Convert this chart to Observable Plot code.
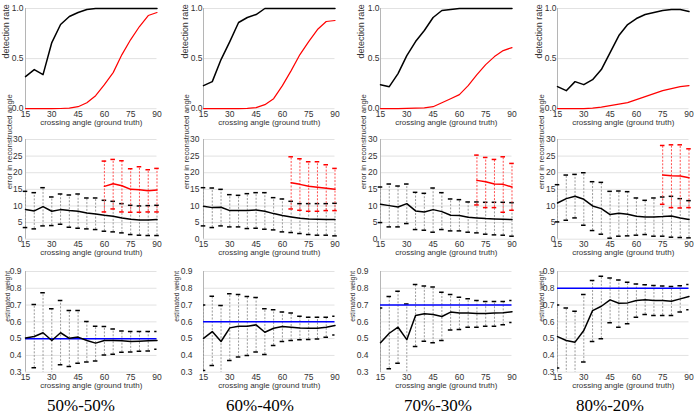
<!DOCTYPE html>
<html><head><meta charset="utf-8">
<script src="https://cdn.jsdelivr.net/npm/d3@7"></script>
<script src="https://cdn.jsdelivr.net/npm/@observablehq/plot@0.6"></script>
<style>
body{margin:0;background:#fff;}
#chart{position:relative;width:698px;height:418px;overflow:hidden;background:#fff;}
.cap{position:absolute;width:160px;text-align:center;font-family:"Liberation Serif","Times New Roman",serif;font-size:17px;line-height:17px;color:#000;white-space:nowrap;}
</style></head><body><div id="chart"></div>
<script>
// ---------- data ----------
const angles = [15,20,25,30,35,40,45,50,55,60,65,70,75,80,85,90];
const xTicks = [15,30,45,60,75,90];
const captions = ["50%-50%","60%-40%","70%-30%","80%-20%"];
const trueWeights = [0.5,0.6,0.7,0.8];
const yTicksDet = [0,0.5,1];
const yTicksErr = [0,5,10,15,20,25,30];
const yTicksW = [0.3,0.4,0.5,0.6,0.7,0.8,0.9];

// detection rate (black = detected, red = second)
const detB_50 = [0.32,0.39,0.34,0.66,0.84,0.92,0.96,0.99,1,1,1,1,1,1,1,1];
const detR_50 = [0,0,0,0,0.002,0.005,0.02,0.06,0.13,0.24,0.36,0.54,0.69,0.82,0.93,0.96];
const detB_60 = [0.23,0.27,0.49,0.67,0.86,0.91,0.94,1,1,1,1,1,1,1,1,1];
const detR_60 = [0,0,0,0,0,0.003,0.01,0.04,0.10,0.23,0.38,0.54,0.67,0.79,0.87,0.88];
const detB_70 = [0.24,0.22,0.35,0.53,0.67,0.78,0.91,0.98,0.99,1,1,1,1,1,1,1];
const detR_70 = [0,0,0,0.003,0.005,0.008,0.02,0.06,0.10,0.14,0.23,0.34,0.44,0.52,0.58,0.61];
const detB_80 = [0.22,0.18,0.27,0.24,0.29,0.39,0.56,0.73,0.84,0.90,0.94,0.96,0.98,0.99,0.99,0.97];
const detR_80 = [0,0,0,0,0.005,0.015,0.03,0.045,0.06,0.09,0.12,0.15,0.18,0.20,0.22,0.23];

// error in reconstructed angle
const errM_50  = [8.9,8.5,9.8,8.4,8.9,8.6,8.4,7.9,7.6,7.2,6.9,6.4,6.0,5.8,5.8,5.9];
const errHi_50 = [14.4,14.0,15.5,12.7,13.6,13.3,13.6,12.4,12.4,11.7,11.4,10.7,10.2,10.0,10.1,10.2];
const errLo_50 = [3.5,3.1,4.0,4.1,4.5,3.6,3.3,3.1,2.9,2.4,2.2,1.9,1.4,1.2,1.1,1.1];
const errRM_50  = [null,null,null,null,null,null,null,null,null,15.9,16.7,16.1,15.0,14.9,14.6,14.8];
const errRHi_50 = [null,null,null,null,null,null,null,null,null,23.5,24.0,23.6,21.2,21.8,20.9,21.3];
const errRLo_50 = [null,null,null,null,null,null,null,null,null,8.2,9.1,8.2,8.1,8.1,8.2,8.2];

const errM_60  = [9.9,9.5,9.6,8.6,8.6,8.6,8.8,8.4,7.7,7.1,6.7,6.3,6.1,6.0,5.9,5.9];
const errHi_60 = [15.5,15.4,15.0,13.4,13.2,13.7,14.0,14.0,12.5,12.1,11.4,10.7,10.7,10.7,10.7,10.8];
const errLo_60 = [4.0,3.5,4.0,3.7,3.7,3.2,3.3,3.0,2.8,2.2,2.0,1.7,1.4,1.2,1.2,1.0];
const errRM_60  = [null,null,null,null,null,null,null,null,null,null,17.0,16.5,15.9,15.6,15.3,15.0];
const errRHi_60 = [null,null,null,null,null,null,null,null,null,null,24.8,24.2,23.3,23.3,22.4,21.3];
const errRLo_60 = [null,null,null,null,null,null,null,null,null,null,9.1,8.7,8.4,8.4,8.6,8.6];

const errM_70  = [10.5,10.1,9.7,10.7,8.5,8.2,8.9,8.3,7.2,7.1,6.6,6.4,6.2,6.1,6.0,5.9];
const errHi_70 = [15.7,16.6,16.0,16.6,14.1,13.8,15.4,14.0,12.1,11.9,11.2,11.2,11.1,11.1,11.1,11.0];
const errLo_70 = [5.0,3.7,3.7,4.7,2.9,2.7,2.1,2.9,2.5,2.5,2.1,1.9,1.5,1.3,1.2,0.9];
const errRM_70  = [null,null,null,null,null,null,null,null,null,null,null,17.7,17.3,16.6,16.5,15.7];
const errRHi_70 = [null,null,null,null,null,null,null,null,null,null,null,25.3,24.6,24.0,24.8,22.8];
const errRLo_70 = [null,null,null,null,null,null,null,null,null,null,null,10.3,9.5,9.5,8.1,8.7];

const errM_80  = [10.9,12.2,12.9,12.0,10.0,9.2,7.4,7.8,7.5,6.9,6.7,6.7,6.8,7.0,6.4,5.9];
const errHi_80 = [16.4,19.3,19.5,20.0,17.3,17.1,14.4,14.5,14.3,12.4,11.7,12.4,12.7,12.9,12.2,11.6];
const errLo_80 = [5.2,5.7,6.4,4.2,2.6,1.5,0.3,0.9,1.0,1.2,1.4,0.9,0.9,0.6,0.5,0.4];
const errRM_80  = [null,null,null,null,null,null,null,null,null,null,null,null,19.3,19.1,19.0,18.5];
const errRHi_80 = [null,null,null,null,null,null,null,null,null,null,null,null,28.2,28.4,28.4,27.2];
const errRLo_80 = [null,null,null,null,null,null,null,null,null,null,null,null,10.5,9.5,9.4,9.5];

// estimated weight
const wM_50  = [0.504,0.513,0.535,0.489,0.535,0.502,0.509,0.489,0.473,0.489,0.489,0.487,0.483,0.485,0.487,0.489];
const wHi_50 = [null,0.703,0.773,0.678,0.727,0.667,0.667,0.602,0.574,0.572,0.558,0.546,0.542,0.542,0.542,0.542];
const wLo_50 = [null,0.326,0.29,0.29,0.344,0.334,0.354,0.360,0.366,0.403,0.407,0.419,0.421,0.425,0.427,0.437];
const wM_60  = [0.502,0.542,0.483,0.564,0.574,0.574,0.582,0.538,0.562,0.572,0.568,0.564,0.562,0.562,0.568,0.578];
const wHi_60 = [0.701,0.753,0.697,0.767,0.763,0.751,0.745,0.678,0.672,0.658,0.652,0.634,0.628,0.628,0.628,0.634];
const wLo_60 = [0.31,0.34,0.27,0.37,0.39,0.40,0.42,0.405,0.459,0.483,0.489,0.493,0.495,0.498,0.508,0.522];
const wM_70  = [0.475,0.532,0.568,0.494,0.638,0.648,0.644,0.632,0.658,0.652,0.652,0.650,0.650,0.652,0.654,0.660];
const wHi_70 = [0.683,0.751,0.783,0.707,0.822,0.813,0.807,0.777,0.763,0.747,0.737,0.727,0.721,0.721,0.721,0.727];
const wLo_70 = [0.27,0.32,0.353,0.28,0.453,0.484,0.475,0.489,0.552,0.554,0.568,0.568,0.574,0.574,0.582,0.596];
const wM_80  = [0.512,0.489,0.479,0.548,0.667,0.693,0.731,0.711,0.713,0.727,0.731,0.727,0.727,0.723,0.737,0.751];
const wHi_80 = [0.70,0.683,0.663,0.763,0.846,0.872,0.862,0.850,0.836,0.826,0.821,0.817,0.813,0.811,0.815,0.822];
const wLo_80 = [0.325,0.29,0.29,0.360,0.483,0.499,0.594,0.568,0.588,0.628,0.644,0.638,0.638,0.638,0.658,0.672];

// ---------- tables built from the arrays ----------
const columns = [
  {detB: detB_50, detR: detR_50, eM: errM_50, eHi: errHi_50, eLo: errLo_50, rM: errRM_50, rHi: errRHi_50, rLo: errRLo_50, wM: wM_50, wHi: wHi_50, wLo: wLo_50},
  {detB: detB_60, detR: detR_60, eM: errM_60, eHi: errHi_60, eLo: errLo_60, rM: errRM_60, rHi: errRHi_60, rLo: errRLo_60, wM: wM_60, wHi: wHi_60, wLo: wLo_60},
  {detB: detB_70, detR: detR_70, eM: errM_70, eHi: errHi_70, eLo: errLo_70, rM: errRM_70, rHi: errRHi_70, rLo: errRLo_70, wM: wM_70, wHi: wHi_70, wLo: wLo_70},
  {detB: detB_80, detR: detR_80, eM: errM_80, eHi: errHi_80, eLo: errLo_80, rM: errRM_80, rHi: errRHi_80, rLo: errRLo_80, wM: wM_80, wHi: wHi_80, wLo: wLo_80}
];
const table = (m, lo, hi) => angles.map((x, i) => ({x, m: m[i], lo: lo ? lo[i] : null, hi: hi ? hi[i] : null}));

// ---------- layout ----------
const chart = document.getElementById("chart");
const AX = [25, 203, 380, 557];
const ROWS = [{top: 7.5, h: 100.2}, {top: 139.3, h: 99.7}, {top: 271, h: 100.7}];
const ML = 30, MR = 10, MT = 10, MB = 30, PW = 131.5;
const FONT = "'Liberation Sans', Arial, Helvetica, sans-serif";
const CAPW = 1.3;

function errorBars(data, barColor, capColor, clip) {
  const d = data.filter(r => r.lo != null && r.hi != null);
  return [
    Plot.ruleX(d, {x: "x", y1: "lo", y2: "hi", stroke: barColor, strokeWidth: 1, strokeDasharray: "2,1.5", clip}),
    Plot.ruleY(d, {y: "hi", x1: r => r.x - CAPW, x2: r => r.x + CAPW, stroke: capColor, strokeWidth: 1.5, clip}),
    Plot.ruleY(d, {y: "lo", x1: r => r.x - CAPW, x2: r => r.x + CAPW, stroke: capColor, strokeWidth: 1.5, clip})
  ];
}

function panel(ci, ri, opts, marks) {
  const r = ROWS[ri];
  const svg = Plot.plot({
    width: ML + PW + MR, height: MT + r.h + MB,
    marginLeft: ML, marginRight: MR, marginTop: MT, marginBottom: MB,
    x: {domain: [15, 90]},
    y: {domain: opts.domain},
    style: {background: "transparent", overflow: "visible", fontFamily: FONT, fontSize: "8.5px", color: "#333"},
    marks: [
      Plot.ruleY(opts.ticks, {stroke: "#e2e2e2"}),
      Plot.ruleX([15], {stroke: "#b5b5b5"}),
      ...marks,
      Plot.axisX({ticks: xTicks, tickSize: 0, tickPadding: 2, label: null, fontSize: 8.5}),
      Plot.axisY({ticks: opts.ticks, tickSize: 0, tickPadding: opts.pad, tickFormat: opts.fmt, label: null, fontSize: 8.5}),
      Plot.text(["crossing angle (ground truth)"], {text: d => d, frameAnchor: "bottom", dy: 16, fontSize: 8, fill: "#333"}),
      Plot.text([opts.label], {text: d => d, frameAnchor: "left", rotate: -90, dx: opts.labelDx, fontSize: opts.labelSize, fill: "#333"})
    ]
  });
  svg.style.position = "absolute";
  svg.style.left = (AX[ci] - ML) + "px";
  svg.style.top = (r.top - MT) + "px";
  chart.appendChild(svg);
}

const padDet = [2, 1, 1, 1], padErr = [3, 4, 3, 2], padW = [4, 11, 12, 3];
const dxDet = [-19.5, -18.5, -19.5, -18.5], dxErr = [-16.5, -17, -17, -16], dxW = [-18, -27, -28, -16];
const capX = [81, 260, 438, 610];

columns.forEach((c, ci) => {
  // row 1: detection rate
  const det = angles.map((x, i) => ({x, b: c.detB[i], r: c.detR[i]}));
  panel(ci, 0, {domain: [0, 1], ticks: yTicksDet, fmt: ".1f", pad: padDet[ci], label: "detection rate", labelDx: dxDet[ci], labelSize: 9}, [
    Plot.line(det, {x: "x", y: "b", stroke: "#000", strokeWidth: 1.5}),
    Plot.line(det, {x: "x", y: "r", stroke: "#ff0000", strokeWidth: 1.2})
  ]);

  // row 2: error in reconstructed angle
  const eb = table(c.eM, c.eLo, c.eHi);
  const er = table(c.rM, c.rLo, c.rHi).filter(d => d.m != null);
  panel(ci, 1, {domain: [0, 30], ticks: yTicksErr, fmt: "d", pad: padErr[ci], label: "error in reconstructed angle", labelDx: dxErr[ci], labelSize: 7.8}, [
    ...errorBars(eb, "#9a9a9a", "#000", false),
    ...errorBars(er, "#ff5050", "#ff0000", false),
    Plot.line(eb, {x: "x", y: "m", stroke: "#000", strokeWidth: 1.5}),
    Plot.line(er, {x: "x", y: "m", stroke: "#ff0000", strokeWidth: 1.5})
  ]);

  // row 3: estimated weight
  const w = table(c.wM, c.wLo, c.wHi);
  panel(ci, 2, {domain: [0.3, 0.9], ticks: yTicksW, fmt: ".1f", pad: padW[ci], label: "estimated weight", labelDx: dxW[ci], labelSize: 6.8}, [
    ...errorBars(w, "#9a9a9a", "#000", true),
    Plot.ruleY([trueWeights[ci]], {stroke: "#0000ff", strokeWidth: 1.5}),
    Plot.line(w, {x: "x", y: "m", stroke: "#000", strokeWidth: 1.5})
  ]);

  const cap = document.createElement("div");
  cap.className = "cap";
  cap.textContent = captions[ci];
  cap.style.left = (capX[ci] - 80) + "px";
  cap.style.top = "397px";
  chart.appendChild(cap);
});
</script></body></html>
